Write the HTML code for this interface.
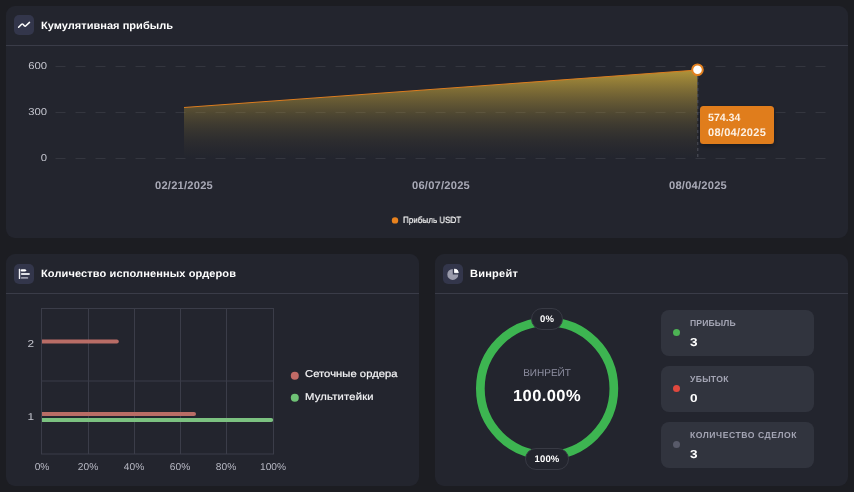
<!DOCTYPE html>
<html lang="ru">
<head>
<meta charset="utf-8">
<title>Dashboard</title>
<style>
  html, body { margin: 0; padding: 0; }
  body {
    width: 854px; height: 492px; overflow: hidden; position: relative;
    background: #1c1d22;
    font-family: "Liberation Sans", sans-serif;
    color: #fff;
    text-rendering: geometricPrecision;
  }
  .card { position: absolute; background: #23252e; border-radius: 9px; }
  .divider { position: absolute; height: 1px; background: #3a3c48; }
  .ibox { position: absolute; width: 20px; height: 20px; border-radius: 5px; background: #33364b; }
  .t { position: absolute; white-space: nowrap; line-height: 1; will-change: transform; }
  .title { font-weight: bold; font-size: 10.5px; color: #fff; transform: scaleX(1.05); transform-origin: 0 50%; }
  .ylab { font-size: 10px; color: #c3c4cd; text-align: right; transform: scaleX(1.13); transform-origin: 100% 50%; }
  .ylab2 { font-size: 10px; color: #c3c4cd; text-align: right; transform: scaleX(1.18); transform-origin: 100% 50%; }
  .xlab { font-size: 11px; letter-spacing: 0.22px; font-weight: bold; color: #a9aab7; transform: translateX(-50%) scaleX(1.012); }
  .pct { font-size: 10px; color: #b7b8c3; transform: translateX(-50%) scaleX(1.02); }
  .leg { font-size: 10px; color: #f4f4f6; -webkit-text-stroke: 0.22px #f4f4f6; transform: scaleX(1.12); transform-origin: 0 50%; }
  .stat { position: absolute; left: 661px; width: 153px; height: 46px; border-radius: 8px; background: #31343e; }
  .slab { font-size: 8.6px; font-weight: bold; letter-spacing: 0.45px; color: #a4a5b4; }
  .sval { font-size: 11.5px; font-weight: bold; color: #fff; transform: scaleX(1.18); transform-origin: 0 50%; }
  .dot { position: absolute; border-radius: 50%; }
  .pill { position: absolute; box-sizing: border-box; background: #23252e; border: 1px solid #383a44; border-radius: 11px; }
  .ptx { font-size: 9.5px; letter-spacing: 0.12px; font-weight: bold; color: #fff; transform: translateX(-50%); }
  svg { position: absolute; left: 0; top: 0; }
</style>
</head>
<body>

<!-- cards -->
<div class="card" style="left:6px; top:6px; width:842px; height:232px;"></div>
<div class="card" style="left:6px; top:254px; width:413px; height:232px;"></div>
<div class="card" style="left:435px; top:254px; width:413px; height:232px;"></div>

<div class="divider" style="left:6px; top:45px; width:842px;"></div>
<div class="divider" style="left:6px; top:293px; width:413px;"></div>
<div class="divider" style="left:435px; top:293px; width:413px;"></div>

<div class="ibox" style="left:14px; top:15px;"></div>
<div class="ibox" style="left:14px; top:264px;"></div>
<div class="ibox" style="left:443px; top:264px;"></div>

<svg width="854" height="492" viewBox="0 0 854 492">
  <defs>
    <linearGradient id="ag" x1="0" y1="0" x2="0" y2="1">
      <stop offset="0.0" stop-color="#b3963a" stop-opacity="0.982"/>
      <stop offset="0.1" stop-color="#b3963a" stop-opacity="0.819"/>
      <stop offset="0.2" stop-color="#b3963a" stop-opacity="0.668"/>
      <stop offset="0.3" stop-color="#b3963a" stop-opacity="0.532"/>
      <stop offset="0.4" stop-color="#b3963a" stop-opacity="0.409"/>
      <stop offset="0.5" stop-color="#b3963a" stop-opacity="0.300"/>
      <stop offset="0.6" stop-color="#b3963a" stop-opacity="0.207"/>
      <stop offset="0.7" stop-color="#b3963a" stop-opacity="0.130"/>
      <stop offset="0.8" stop-color="#b3963a" stop-opacity="0.070"/>
      <stop offset="0.9" stop-color="#b3963a" stop-opacity="0.029"/>
      <stop offset="1.0" stop-color="#b3963a" stop-opacity="0.000"/>
    </linearGradient>
    <filter id="sh" x="-20%" y="-30%" width="140%" height="170%">
      <feDropShadow dx="0" dy="2" stdDeviation="2.5" flood-color="#000" flood-opacity="0.35"/>
    </filter>
  </defs>

  <!-- header icons -->
  <path d="M18.6 27.3 L21.6 24.3 Q22.3 23.7 23 24.3 L24.5 25.9 Q25.2 26.5 25.9 25.8 L29.5 22.4" fill="none" stroke="#fff" stroke-width="1.5" stroke-linecap="round" stroke-linejoin="round"/>

  <g>
    <rect x="18.8" y="268.8" width="1.4" height="10.3" rx="0.6" fill="#efeff3"/>
    <path d="M21.8 269.3 H25.2 L26.6 270.45 L25.2 271.6 H21.8 A1.15 1.15 0 0 1 21.8 269.3 Z" fill="#fff"/>
    <rect x="20.9" y="273" width="9" height="2" rx="0.9" fill="#dfe0e6"/>
    <rect x="20.9" y="276.9" width="7.3" height="1.9" rx="0.9" fill="#9a9bab"/>
  </g>

  <g>
    <path d="M452.8 268.9 A5.5 5.5 0 1 0 458.3 274.4 L452.8 274.4 Z" fill="#9a9bab"/>
    <path d="M454.5 269 A3.9 3.9 0 0 1 458.3 272.7 L454.5 272.7 Z" fill="#fff" stroke="#fff" stroke-width="0.8" stroke-linejoin="round"/>
  </g>

  <!-- line chart grid -->
  <g stroke="#34363f" stroke-width="1" stroke-dasharray="10 10" fill="none">
    <path d="M55.5 66.5 H826"/>
    <path d="M55.5 112.5 H826"/>
    <path d="M55.5 158.5 H826"/>
  </g>

  <!-- area -->
  <path d="M184 107.5 L697.5 70 L697.5 158 L184 158 Z" fill="url(#ag)"/>
  <path d="M184 107.5 L697.5 70" fill="none" stroke="#dc7d1f" stroke-width="1"/>

  <!-- crosshair -->
  <path d="M697.8 76 V158" stroke="#50525d" stroke-width="1" stroke-dasharray="3 3" fill="none"/>

  <!-- marker -->
  <circle cx="697.5" cy="69.75" r="5.3" fill="#fff" stroke="#e2801f" stroke-width="2"/>

  <!-- tooltip -->
  <rect x="700" y="106" width="74" height="38" rx="3.5" fill="#e07d1f" filter="url(#sh)"/>

  <!-- legend dot -->
  <circle cx="395" cy="220.4" r="3.2" fill="#e8821e"/>

  <!-- bar chart grid -->
  <g stroke="#3b3d49" stroke-width="1" fill="none">
    <rect x="41.5" y="308.5" width="232" height="145.5"/>
    <path d="M88.5 308.5 V454 M134.5 308.5 V454 M180.5 308.5 V454 M226.5 308.5 V454"/>
    <path d="M41.5 381 H273.5"/>
  </g>

  <!-- bars -->
  <path d="M42 339.5 H116.8 A2 2 0 0 1 116.8 343.5 H42 Z" fill="#b96d66"/>
  <path d="M42 412 H194 A2 2 0 0 1 194 416 H42 Z" fill="#b96d66"/>
  <path d="M42 418 H271.2 A2 2 0 0 1 271.2 422 H42 Z" fill="#7cc281"/>

  <!-- bar legend dots -->
  <circle cx="294.8" cy="375.7" r="4" fill="#c06a66"/>
  <circle cx="294.8" cy="397.8" r="4" fill="#6fc276"/>

  <!-- donut -->
  <circle cx="547.1" cy="388.6" r="66.75" fill="none" stroke="#3db551" stroke-width="8.7"/>
</svg>

<!-- titles -->
<div class="t title" id="t1" style="left:41px; top:21.1px; letter-spacing:0.02px;">Кумулятивная прибыль</div>
<div class="t title" id="t2" style="left:41px; top:269.1px; letter-spacing:0.11px;">Количество исполненных ордеров</div>
<div class="t title" id="t3" style="left:470px; top:269.1px; letter-spacing:0.22px;">Винрейт</div>

<!-- y labels -->
<div class="t ylab" style="left:20px; width:27.1px; top:61.5px;">600</div>
<div class="t ylab" style="left:20px; width:27.1px; top:107.5px;">300</div>
<div class="t ylab" style="left:20px; width:27.1px; top:153.5px;">0</div>

<!-- x labels -->
<div class="t xlab" style="left:184px; top:181px;">02/21/2025</div>
<div class="t xlab" style="left:440.5px; top:181px;">06/07/2025</div>
<div class="t xlab" style="left:697.5px; top:181px;">08/04/2025</div>

<!-- tooltip text -->
<div class="t" style="left:708.3px; top:112.5px; font-size:10.6px; font-weight:bold; color:#fdf1e4;">574.34</div>
<div class="t" style="left:708.3px; top:127.5px; font-size:11px; letter-spacing:0.3px; font-weight:bold; color:#fdf1e4;">08/04/2025</div>

<!-- legend -->
<div class="t" id="lg1" style="left:403px; top:215.6px; font-size:9px; color:#fff; -webkit-text-stroke:0.2px #fff; transform:scaleX(0.895); transform-origin:0 50%;">Прибыль USDT</div>

<!-- bar chart labels -->
<div class="t ylab2" style="left:20px; width:14px; top:339.5px;">2</div>
<div class="t ylab2" style="left:20px; width:14px; top:412.5px;">1</div>

<div class="t pct" style="left:41.5px; top:462.5px;">0%</div>
<div class="t pct" style="left:88.2px; top:462.5px;">20%</div>
<div class="t pct" style="left:134.2px; top:462.5px;">40%</div>
<div class="t pct" style="left:180.3px; top:462.5px;">60%</div>
<div class="t pct" style="left:226.3px; top:462.5px;">80%</div>
<div class="t pct" style="left:272.6px; top:462.5px;">100%</div>

<div class="t leg" id="lg2" style="left:305px; top:370px; letter-spacing:0.05px;">Сеточные ордера</div>
<div class="t leg" id="lg3" style="left:305px; top:393px; letter-spacing:0.2px;">Мультитейки</div>

<!-- donut texts -->
<div class="pill" style="left:531px; top:308px; width:32px; height:21.8px;"></div>
<div class="pill" style="left:525.4px; top:448px; width:43.5px; height:21.8px;"></div>
<div class="t ptx" style="left:547px; top:315px;">0%</div>
<div class="t ptx" style="left:547.3px; top:455px;">100%</div>
<div class="t" id="wl" style="left:546.7px; top:368.5px; font-size:10px; color:#8f90a2; transform:translateX(-50%);">ВИНРЕЙТ</div>
<div class="t" id="wv" style="left:547.2px; top:388.7px; font-size:16px; letter-spacing:0.4px; font-weight:bold; color:#fff; transform:translateX(-50%) scaleX(1.03);">100.00%</div>

<!-- stats -->
<div class="stat" style="top:310px;"></div>
<div class="stat" style="top:366px;"></div>
<div class="stat" style="top:422px;"></div>

<div class="dot" style="left:673px; top:329.2px; width:7px; height:7px; background:#4db354;"></div>
<div class="dot" style="left:673px; top:385.2px; width:7px; height:7px; background:#e0483e;"></div>
<div class="dot" style="left:673px; top:441.2px; width:7px; height:7px; background:#585a69;"></div>

<div class="t slab" id="s1" style="left:689.5px; top:319px; letter-spacing:0.12px;">ПРИБЫЛЬ</div>
<div class="t sval" style="left:689.5px; top:337.5px;">3</div>
<div class="t slab" id="s2" style="left:689.5px; top:375px; letter-spacing:0.31px;">УБЫТОК</div>
<div class="t sval" style="left:689.5px; top:393.5px;">0</div>
<div class="t slab" id="s3" style="left:689.5px; top:431px; letter-spacing:0.54px;">КОЛИЧЕСТВО СДЕЛОК</div>
<div class="t sval" style="left:689.5px; top:449.5px;">3</div>

</body>
</html>
